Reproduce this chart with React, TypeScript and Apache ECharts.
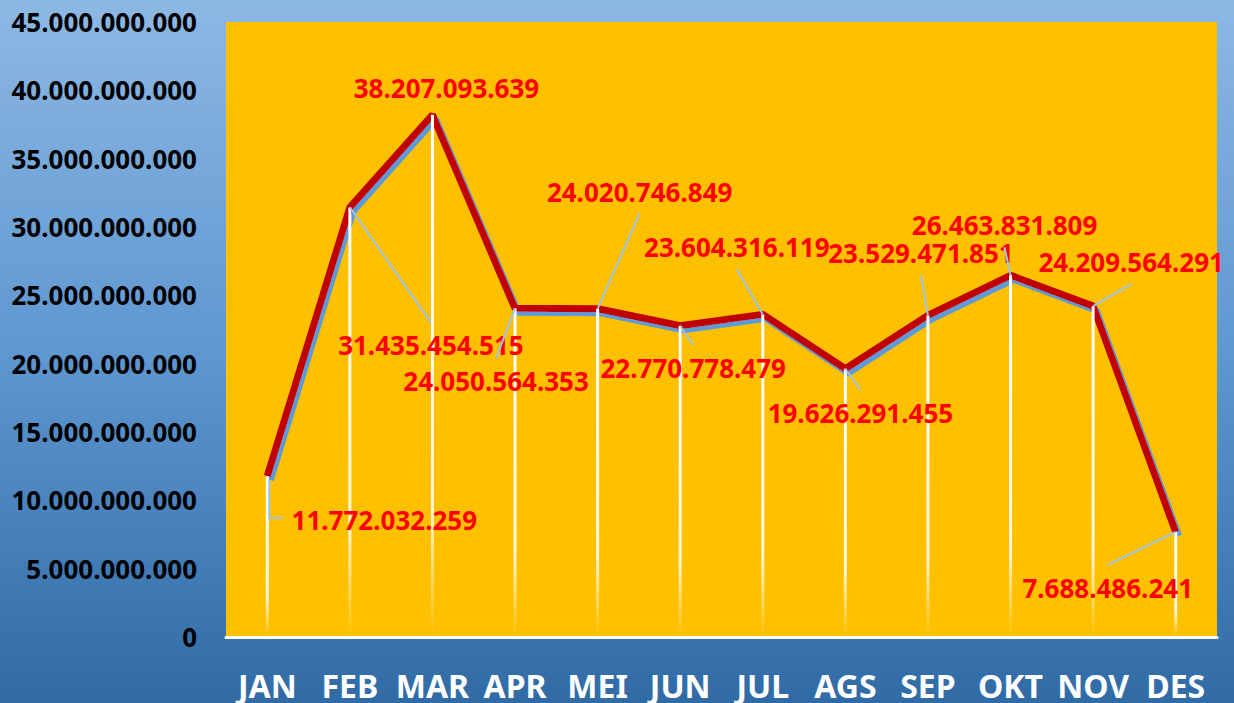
import React, { useEffect, useRef } from "react";
import * as echarts from "echarts";

const months = ["JAN", "FEB", "MAR", "APR", "MEI", "JUN", "JUL", "AGS", "SEP", "OKT", "NOV", "DES"];
const values = [
  11772032259, 31435454515, 38207093639, 24050564353, 24020746849, 22770778479,
  23604316119, 19626291455, 23529471851, 26463831809, 24209564291, 7688486241,
];
// label displacement (px) from each point
const labelDx = [117, 81, 14, -19, 42, 13, -26, 15, -7, -6, 38, -68];
const labelDy = [44, 138, -27, 73, -117, 42, -67, 44, -62, -50, -44, 56];
// leader style: "left" = elbow to the label's left side, "none" = no leader, "v" = toward label top/bottom
const leaderKind = ["left", "v", "none", "v", "v", "v", "v", "v", "v", "v", "v", "v"];

const fmt = (v: number) => String(Math.round(v)).replace(/\B(?=(\d{3})+(?!\d))/g, ".");

const FONT = "'Noto Sans', 'Open Sans', sans-serif";
const LABEL_SIZE = 26;

function measure(text: string): number {
  const c = document.createElement("canvas").getContext("2d");
  if (!c) return text.length * 13;
  c.font = `bold ${LABEL_SIZE}px ${FONT}`;
  return c.measureText(text).width;
}

export default function App() {
  const ref = useRef<HTMLDivElement>(null);
  useEffect(() => {
    if (!ref.current) return;
    const chart = echarts.init(ref.current, undefined, { renderer: "svg" });
    const pairs = values.map((v, i) => [i, v]);
    chart.setOption({
      animation: false,
      backgroundColor: new echarts.graphic.LinearGradient(0, 0, 0, 1, [
        { offset: 0, color: "#8db8e4" },
        { offset: 0.5, color: "#5f97d0" },
        { offset: 1, color: "#306ba6" },
      ]),
      grid: {
        left: 226,
        right: 17,
        top: 22,
        bottom: 66,
        show: true,
        backgroundColor: "#FFC000",
        borderWidth: 0,
      },
      xAxis: {
        type: "category",
        data: months,
        axisLine: { show: true, lineStyle: { color: "#ffffff", width: 3 } },
        axisTick: { show: false },
        axisLabel: {
          color: "#ffffff",
          fontFamily: FONT,
          fontWeight: "bold",
          fontSize: 32,
          lineHeight: 28,
          margin: 34,
          interval: 0,
        },
      },
      yAxis: {
        type: "value",
        min: 0,
        max: 45000000000,
        interval: 5000000000,
        splitLine: { show: false },
        axisLine: { show: false },
        axisTick: { show: false },
        axisLabel: {
          color: "#000000",
          fontFamily: FONT,
          fontWeight: "bold",
          fontSize: 26,
          margin: 29,
          formatter: (v: number) => fmt(v),
        },
      },
      series: [
        {
          type: "line",
          data: values,
          z: 2,
          symbol: "none",
          lineStyle: {
            color: "#C00000",
            width: 7,
            shadowColor: "#5B9BD5",
            shadowOffsetX: 3,
            shadowOffsetY: 4,
            shadowBlur: 0,
          },
        },
        {
          type: "bar",
          data: values,
          z: 3,
          barWidth: 3,
          silent: true,
          itemStyle: {
            color: new echarts.graphic.LinearGradient(0, 0, 0, 1, [
              { offset: 0, color: "rgba(255,255,255,1)" },
              { offset: 0.75, color: "rgba(255,255,255,0.85)" },
              { offset: 1, color: "rgba(255,255,255,0)" },
            ]),
          },
        },
        {
          type: "custom",
          data: pairs,
          z: 5,
          silent: true,
          encode: { x: 0, y: 1 },
          renderItem: (params: any, api: any) => {
            const i = params.dataIndex;
            const v = api.value(1);
            const [px, py] = api.coord([api.value(0), v]);
            const text = fmt(v);
            const w = measure(text);
            const cx = px + labelDx[i];
            const cy = py + labelDy[i];
            const halfH = 10;
            let pts: number[][] | null = null;
            if (leaderKind[i] === "left") {
              pts = [[px + 2, py + 4], [px + 2, cy - 2], [cx - w / 2 - 9, cy - 2]];
            } else if (leaderKind[i] === "v") {
              const ey = labelDy[i] > 0 ? cy - halfH - 13 : cy + halfH + 12;
              pts = [[px, py], [cx, ey]];
            }
            const children: any[] = [];
            if (pts) {
              children.push({
                type: "polyline",
                shape: { points: pts },
                style: { stroke: "#9DC3E6", lineWidth: 2, fill: "none" },
              });
            }
            children.push({
              type: "text",
              x: cx,
              y: cy,
              style: {
                text,
                align: "center",
                verticalAlign: "middle",
                fill: "#FF0000",
                font: `bold ${LABEL_SIZE}px ${FONT}`,
                lineHeight: 20,
              },
            });
            return { type: "group", children };
          },
        },
      ],
    });
    return () => chart.dispose();
  }, []);
  return (
    <div
      ref={ref}
      style={{ position: "fixed", left: 0, top: 0, width: 1234, height: 703 }}
    />
  );
}
